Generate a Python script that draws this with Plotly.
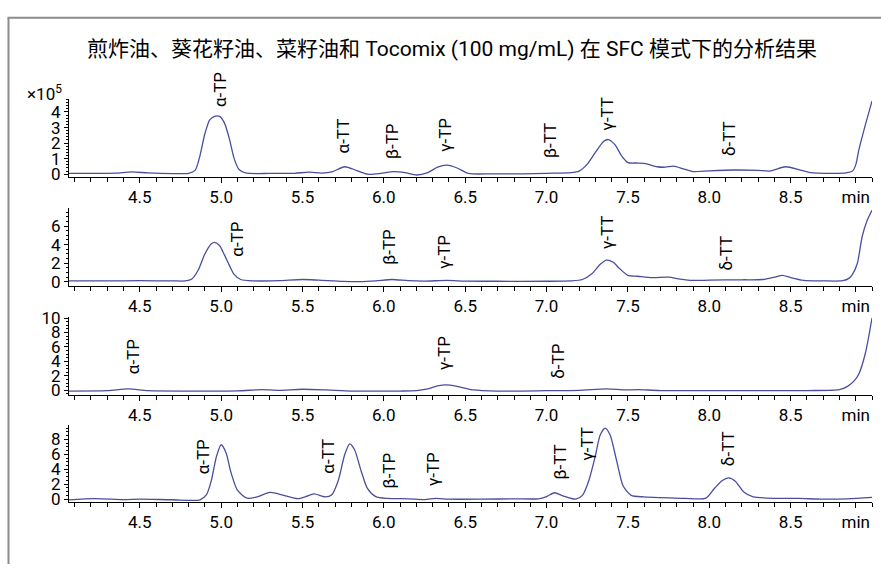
import plotly.graph_objects as go

# ---------------- data ----------------
t1 = [4.06, 4.2, 4.35, 4.45, 4.55, 4.7, 4.8, 4.84, 4.87, 4.9, 4.93, 4.96, 4.99, 5.02, 5.05, 5.08, 5.11, 5.15,
      5.3, 5.45, 5.54, 5.62, 5.68, 5.76, 5.83, 5.9, 5.98, 6.06, 6.13, 6.2, 6.27, 6.33, 6.39, 6.45, 6.52, 6.65,
      6.85, 7.0, 7.15, 7.2, 7.25, 7.3, 7.35, 7.38, 7.42, 7.46, 7.5, 7.55, 7.6, 7.68, 7.73, 7.78, 7.84, 7.9,
      8.0, 8.15, 8.3, 8.37, 8.47, 8.55, 8.62, 8.75, 8.84, 8.88, 8.9, 8.92, 8.96, 9.0]
v1 = [0.05, 0.05, 0.07, 0.15, 0.08, 0.04, 0.06, 0.25, 1.2, 2.6, 3.5, 3.72, 3.72, 3.3, 2.3, 1.0, 0.3, 0.08,
      0.05, 0.06, 0.13, 0.07, 0.15, 0.48, 0.25, 0.0, 0.05, 0.17, 0.1, -0.05, 0.1, 0.45, 0.58, 0.4, 0.05, 0.02,
      0.02, 0.06, 0.1, 0.2, 0.65, 1.4, 2.1, 2.23, 1.9, 1.2, 0.75, 0.72, 0.7, 0.48, 0.45, 0.52, 0.35, 0.17,
      0.22, 0.27, 0.25, 0.2, 0.48, 0.3, 0.1, 0.05, 0.08, 0.2, 0.6, 1.6, 3.2, 4.7]

t2 = [4.06, 4.3, 4.5, 4.7, 4.78, 4.82, 4.86, 4.9, 4.94, 4.96, 4.99, 5.02, 5.05, 5.08, 5.12, 5.2, 5.35, 5.5,
      5.6, 5.75, 5.85, 5.95, 6.05, 6.15, 6.25, 6.39, 6.5, 6.7, 7.0, 7.15, 7.22, 7.28, 7.33, 7.37, 7.41, 7.45,
      7.5, 7.56, 7.65, 7.75, 7.82, 7.9, 8.0, 8.2, 8.33, 8.4, 8.45, 8.5, 8.58, 8.7, 8.82, 8.86, 8.88, 8.91,
      8.94, 8.97, 9.0]
v2 = [0.1, 0.1, 0.12, 0.1, 0.1, 0.3, 1.3, 3.0, 4.1, 4.25, 3.9, 2.9, 1.8, 0.8, 0.25, 0.1, 0.12, 0.25,
      0.18, 0.05, 0.02, 0.1, 0.25, 0.12, 0.08, 0.15, 0.08, 0.06, 0.06, 0.1, 0.25, 0.9, 1.9, 2.34, 2.1, 1.4,
      0.7, 0.6, 0.45, 0.5, 0.3, 0.15, 0.18, 0.22, 0.25, 0.5, 0.7, 0.45, 0.15, 0.1, 0.12, 0.4, 0.8, 2.0,
      4.9, 6.6, 7.7]

t3 = [4.06, 4.3, 4.43, 4.55, 4.8, 5.1, 5.25, 5.35, 5.5, 5.65, 5.8, 6.1, 6.2, 6.27, 6.33, 6.38, 6.45, 6.55,
      6.7, 7.0, 7.2, 7.37, 7.48, 7.56, 7.7, 8.2, 8.6, 8.8, 8.85, 8.89, 8.92, 8.96, 9.0]
v3 = [-0.1, -0.05, 0.2, -0.05, -0.1, -0.08, 0.1, 0.0, 0.15, 0.05, -0.1, -0.1, -0.05, 0.2, 0.6, 0.75, 0.55, 0.05,
      -0.1, -0.05, 0.0, 0.2, 0.05, 0.1, -0.03, -0.03, -0.03, 0.1, 0.55, 1.3, 2.3, 5.2, 10.0]

t4 = [4.06, 4.22, 4.4, 4.5, 4.7, 4.87, 4.91, 4.94, 4.97, 5.0, 5.03, 5.06, 5.1, 5.16, 5.22, 5.3, 5.38, 5.47,
      5.52, 5.57, 5.64, 5.68, 5.72, 5.76, 5.79, 5.82, 5.86, 5.9, 5.95, 6.02, 6.15, 6.25, 6.32, 6.4, 6.6, 6.8,
      6.95, 7.0, 7.05, 7.1, 7.18, 7.22, 7.26, 7.3, 7.33, 7.36, 7.39, 7.43, 7.47, 7.52, 7.6, 7.7, 7.85, 7.98,
      8.03, 8.08, 8.12, 8.16, 8.21, 8.27, 8.35, 8.55, 8.7, 8.85, 9.0]
v4 = [-0.1, 0.08, -0.05, 0.0, -0.08, -0.1, 0.6, 2.5, 5.6, 7.27, 6.2, 3.6, 1.2, 0.13, 0.3, 0.9, 0.55, 0.08,
      0.35, 0.7, 0.3, 0.6, 2.5, 6.0, 7.4, 6.6, 3.8, 1.4, 0.35, 0.1, 0.05, -0.05, 0.1, 0.0, 0.0, 0.05,
      0.05, 0.35, 0.86, 0.45, 0.0, 0.5, 2.5, 5.8, 8.6, 9.5, 8.6, 5.2, 1.8, 0.5, 0.3, 0.2, 0.1, 0.15,
      1.4, 2.5, 2.85, 2.4, 1.0, 0.3, 0.15, 0.1, 0.0, 0.05, 0.25]

# peak labels: (text, time, label-centre height in panel units)
labels1 = [("α-TP", 4.99, 5.44), ("α-TT", 5.75, 2.44), ("β-TP", 6.05, 2.13), ("γ-TP", 6.38, 2.5),
           ("β-TT", 7.02, 2.19), ("γ-TT", 7.37, 3.88), ("δ-TT", 8.12, 2.31)]
labels2 = [("α-TP", 5.10, 4.57), ("β-TP", 6.03, 3.73), ("γ-TP", 6.37, 3.21), ("γ-TT", 7.37, 5.3),
           ("δ-TT", 8.10, 3.1)]
labels3 = [("α-TP", 4.46, 4.62), ("γ-TP", 6.37, 5.15), ("δ-TP", 7.07, 4.08)]
labels4 = [("α-TP", 4.89, 5.62), ("α-TT", 5.66, 5.75), ("β-TP", 6.03, 3.81), ("γ-TP", 6.30, 3.94),
           ("β-TT", 7.08, 4.97), ("γ-TT", 7.25, 7.44), ("δ-TT", 8.12, 6.79)]

x_ticks = [4.5, 5.0, 5.5, 6.0, 6.5, 7.0, 7.5, 8.0, 8.5, 8.9]
x_ticktext = ["4.5", "5.0", "5.5", "6.0", "6.5", "7.0", "7.5", "8.0", "8.5", "min"]
y_ticks = [[0, 1, 2, 3, 4], [0, 2, 4, 6], [0, 2, 4, 6, 8, 10], [0, 2, 4, 6, 8]]
y_minor = [0.2, 0.5, 0.5, 0.5]
y_ranges = [[-0.17, 4.81], [-0.45, 7.91], [-0.59, 10.17], [-0.39, 9.91]]

title = "煎炸油、葵花籽油、菜籽油和 Tocomix (100 mg/mL) 在 SFC 模式下的分析结果"

# ---------------- layout geometry ----------------
W, H = 881, 571
FONT = "Roboto, 'Noto Sans CJK SC', sans-serif"
LINE = "#4a4e9c"
panels_px = [(93, 172.7), (205, 285), (316.7, 396.7), (428, 507.3)]  # top, bottom pixels
x_dom = [69 / W, 872 / W]

fig = go.Figure()
series = [(t1, v1), (t2, v2), (t3, v3), (t4, v4)]
all_labels = [labels1, labels2, labels3, labels4]

for i, (t, v) in enumerate(series):
    n = i + 1
    xa = "x" if n == 1 else f"x{n}"
    ya = "y" if n == 1 else f"y{n}"
    fig.add_trace(go.Scatter(x=t, y=v, mode="lines", xaxis=xa, yaxis=ya,
                             line=dict(color=LINE, width=1.3, shape="spline", smoothing=0.7),
                             showlegend=False, hoverinfo="skip"))
    top, bot = panels_px[i]
    dom = [1 - bot / H, 1 - top / H]
    xkey = "xaxis" if n == 1 else f"xaxis{n}"
    ykey = "yaxis" if n == 1 else f"yaxis{n}"
    fig.layout[xkey] = dict(domain=x_dom, anchor=ya, range=[4.065, 9.0],
                            showline=True, linecolor="black", linewidth=1,
                            ticks="outside", ticklen=5, tickcolor="black",
                            tickvals=x_ticks, ticktext=x_ticktext,
                            minor=dict(dtick=0.1, tick0=4.0, ticks="outside", ticklen=4, tickcolor="black"),
                            showgrid=False, zeroline=False,
                            tickfont=dict(family=FONT, size=17, color="black"))
    fig.layout[ykey] = dict(domain=dom, anchor=xa, range=y_ranges[i],
                            showline=True, linecolor="black", linewidth=1,
                            ticks="outside", ticklen=4, tickcolor="black",
                            tickvals=y_ticks[i],
                            minor=dict(dtick=y_minor[i], tick0=0, ticks="outside", ticklen=2, tickcolor="black"),
                            showgrid=False, zeroline=False,
                            tickfont=dict(family=FONT, size=17, color="black"))
    r0, r1 = y_ranges[i]
    for txt, tx, ty in all_labels[i]:
        fig.add_annotation(x=tx, xref=xa, y=(ty - r0) / (r1 - r0), yref=f"{ya} domain",
                           text=txt, textangle=-90, showarrow=False,
                           xanchor="center", yanchor="middle",
                           font=dict(family=FONT, size=17, color="black"))

fig.add_annotation(x=452 / W, y=1 - 41.5 / H, xref="paper", yref="paper", text=title,
                   showarrow=False, xanchor="center", yanchor="middle",
                   font=dict(family=FONT, size=21, color="black"))
fig.add_annotation(x=64 / W, y=1 - 86 / H, xref="paper", yref="paper", text="×10<sup>5</sup>",
                   showarrow=False, xanchor="right", yanchor="middle",
                   font=dict(family=FONT, size=17, color="black"))

# frame lines of the figure box
fig.add_shape(type="line", xref="paper", yref="paper", x0=8.5 / W, x1=8.5 / W, y0=0, y1=1 - 9 / H,
              line=dict(color="#8c8c8c", width=2))
fig.add_shape(type="line", xref="paper", yref="paper", x0=7.5 / W, x1=1, y0=1 - 9 / H, y1=1 - 9 / H,
              line=dict(color="#8c8c8c", width=2))

fig.update_layout(width=W, height=H, margin=dict(l=0, r=0, t=0, b=0),
                  paper_bgcolor="white", plot_bgcolor="white", showlegend=False)

fig.write_html("out.html")
